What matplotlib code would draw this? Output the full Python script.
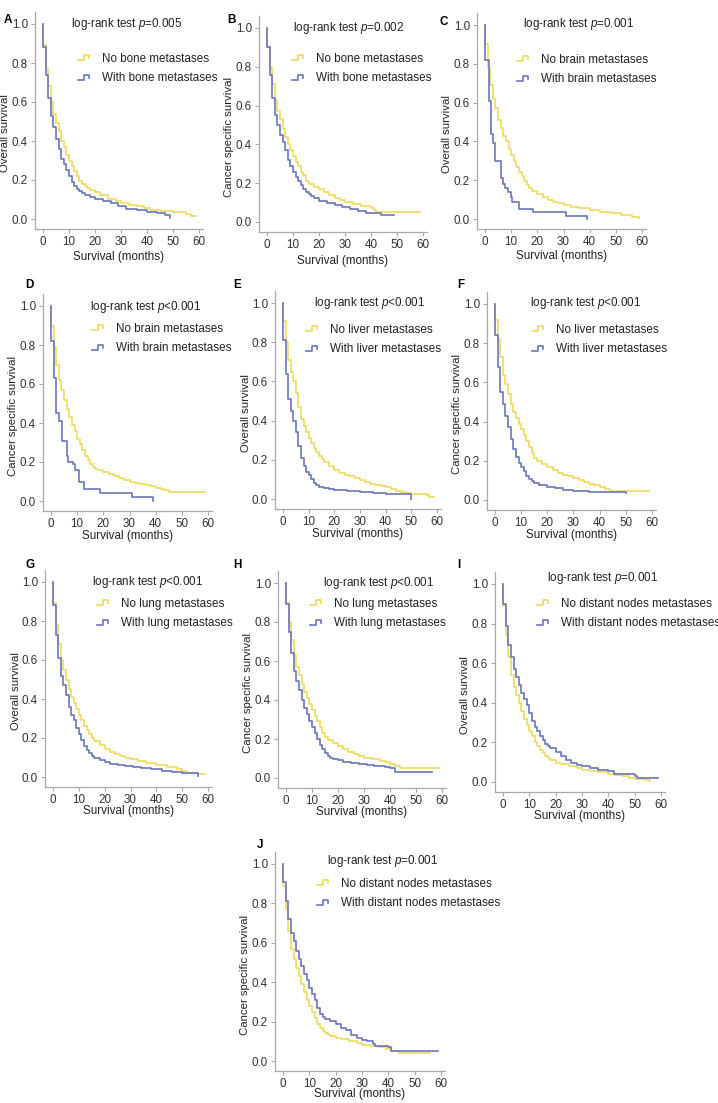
import numpy as np
import matplotlib
matplotlib.use("Agg")
import matplotlib.pyplot as plt
from matplotlib.lines import Line2D
from matplotlib.legend_handler import HandlerBase
from matplotlib.ticker import FormatStrFormatter

# ----------------------------
# DATA (Kaplan-Meier steps)
# ----------------------------
# A: bone metastases, overall survival
A_no_t = [0, 0, 1, 2, 3, 4, 5, 6, 7, 8, 9, 10, 11, 12, 13, 14, 15, 16, 17, 18, 20, 22, 25, 28, 30, 33, 36, 39, 41, 45, 50, 55, 57, 59]
A_no_s = [1.0, 0.89, 0.77, 0.68, 0.60, 0.54, 0.49, 0.45, 0.40, 0.37, 0.33, 0.30, 0.27, 0.245, 0.22, 0.195, 0.18, 0.17, 0.16, 0.15,
          0.14, 0.125, 0.105, 0.09, 0.08, 0.07, 0.065, 0.055, 0.045, 0.04, 0.035, 0.025, 0.015, 0.015]
A_with_t = [0, 0, 1, 2, 3, 4, 5, 6, 7, 8, 9, 10, 11, 12, 13, 14, 15, 16, 18, 20, 23, 26, 29, 32, 36, 40, 44, 47, 49]
A_with_s = [1.0, 0.88, 0.74, 0.62, 0.53, 0.47, 0.41, 0.36, 0.31, 0.28, 0.25, 0.22, 0.19, 0.17, 0.155, 0.145, 0.135, 0.125,
            0.115, 0.105, 0.09, 0.08, 0.065, 0.05, 0.045, 0.035, 0.03, 0.02, 0.005]

# B: bone metastases, cancer specific survival
B_no_t = [0, 0, 1, 2, 3, 4, 5, 6, 7, 8, 9, 10, 11, 12, 13, 14, 15, 16, 18, 20, 22, 24, 26, 28, 30, 33, 36, 38, 40, 41, 42, 59]
B_no_s = [1.0, 0.90, 0.80, 0.71, 0.63, 0.57, 0.53, 0.48, 0.44, 0.40, 0.37, 0.34, 0.31, 0.29, 0.26, 0.24, 0.21, 0.195,
          0.18, 0.17, 0.155, 0.14, 0.125, 0.115, 0.105, 0.095, 0.085, 0.08, 0.07, 0.06, 0.05, 0.05]
B_with_t = [0, 0, 1, 2, 3, 4, 5, 6, 7, 8, 9, 10, 11, 12, 13, 14, 15, 16, 17, 18, 20, 23, 26, 29, 32, 35, 38, 44, 49]
B_with_s = [1.0, 0.90, 0.76, 0.64, 0.55, 0.50, 0.45, 0.41, 0.37, 0.32, 0.29, 0.26, 0.23, 0.21, 0.19, 0.17, 0.155, 0.145, 0.135, 0.125,
            0.11, 0.10, 0.09, 0.075, 0.065, 0.055, 0.045, 0.038, 0.038]

# C: brain metastases, overall survival
C_no_t = [0, 0, 1, 2, 3, 4, 5, 6, 7, 8, 9, 10, 11, 12, 13, 14, 15, 16, 17, 18, 20, 22, 24, 26, 28, 30, 33, 36, 40, 44, 48, 52, 56, 59]
C_no_s = [1.0, 0.90, 0.78, 0.69, 0.62, 0.57, 0.51, 0.47, 0.43, 0.40, 0.36, 0.33, 0.30, 0.27, 0.24, 0.22, 0.195, 0.175, 0.16, 0.145,
          0.13, 0.115, 0.10, 0.09, 0.08, 0.07, 0.06, 0.055, 0.045, 0.035, 0.03, 0.02, 0.01, 0.005]
C_with_t = [0, 0, 1.6, 2.3, 2.9, 3.8, 6, 6.7, 7.6, 8.9, 9.8, 10.5, 13, 18.4, 30.9, 38.8]
C_with_s = [1.0, 0.82, 0.61, 0.44, 0.39, 0.30, 0.21, 0.18, 0.16, 0.14, 0.115, 0.09, 0.05, 0.034, 0.015, 0.0]

# D: brain metastases, cancer specific survival
D_no_t = [0, 0, 1, 2, 3, 4, 5, 6, 7, 8, 9, 10, 11, 12, 13, 14, 15, 16, 17, 18, 20, 22, 24, 26, 28, 30, 32, 34, 36, 38, 40, 42, 43, 45, 59]
D_no_s = [1.0, 0.90, 0.79, 0.70, 0.62, 0.57, 0.52, 0.47, 0.43, 0.39, 0.36, 0.32, 0.29, 0.26, 0.23, 0.21, 0.19, 0.175, 0.165, 0.16,
          0.15, 0.14, 0.13, 0.12, 0.11, 0.10, 0.09, 0.085, 0.08, 0.075, 0.065, 0.06, 0.055, 0.046, 0.046]
D_with_t = [0, 0, 1.1, 1.9, 3.2, 4.1, 6, 6.6, 8.3, 9.1, 10.7, 12.7, 18.7, 31.1, 39]
D_with_s = [1.0, 0.82, 0.63, 0.45, 0.41, 0.31, 0.23, 0.20, 0.19, 0.16, 0.10, 0.06, 0.04, 0.02, 0.0]

# E: liver metastases, overall survival
E_no_t = [0, 0, 1, 2, 3, 4, 5, 6, 7, 8, 9, 10, 11, 12, 13, 14, 15, 16, 18, 20, 22, 24, 26, 28, 30, 32, 34, 36, 38, 40, 42, 44, 46, 48, 50, 56, 57, 59]
E_no_s = [1.0, 0.91, 0.80, 0.71, 0.65, 0.60, 0.54, 0.47, 0.41, 0.37, 0.34, 0.31, 0.285, 0.26, 0.24, 0.22, 0.205, 0.19,
          0.17, 0.15, 0.135, 0.125, 0.115, 0.105, 0.095, 0.085, 0.075, 0.07, 0.065, 0.06, 0.05, 0.04, 0.035, 0.03, 0.025, 0.02, 0.012, 0.01]
E_with_t = [0, 0, 1, 2, 3, 4, 5, 6, 7, 8, 9, 10, 11, 12, 13, 14, 16, 18, 20, 25, 30, 35, 40, 50]
E_with_s = [1.0, 0.81, 0.64, 0.51, 0.45, 0.40, 0.34, 0.27, 0.21, 0.17, 0.14, 0.12, 0.10, 0.08, 0.07, 0.06,
            0.055, 0.05, 0.048, 0.04, 0.035, 0.03, 0.025, 0.0]

# F: liver metastases, cancer specific survival
F_no_t = [0, 0, 1, 2, 3, 4, 5, 6, 7, 8, 9, 10, 11, 12, 13, 14, 15, 16, 18, 20, 22, 24, 26, 28, 30, 32, 34, 36, 38, 40, 42, 44, 59]
F_no_s = [1.0, 0.92, 0.82, 0.73, 0.64, 0.59, 0.54, 0.49, 0.45, 0.42, 0.39, 0.36, 0.33, 0.30, 0.27, 0.24, 0.215, 0.20,
          0.185, 0.17, 0.155, 0.14, 0.13, 0.12, 0.11, 0.10, 0.09, 0.08, 0.075, 0.068, 0.055, 0.046, 0.046]
F_with_t = [0, 0, 1, 2, 3, 4, 5, 6, 7, 8, 9, 10, 11, 12, 13, 14, 15, 17, 20, 23, 26, 30, 36, 50]
F_with_s = [1.0, 0.84, 0.68, 0.55, 0.49, 0.43, 0.37, 0.31, 0.26, 0.22, 0.19, 0.17, 0.15, 0.12, 0.105, 0.095, 0.085,
            0.075, 0.065, 0.06, 0.05, 0.048, 0.04, 0.035]

# G: lung metastases, overall survival
G_no_t = [0, 0, 1, 2, 3, 4, 5, 6, 7, 8, 9, 10, 11, 12, 13, 14, 15, 16, 18, 20, 22, 24, 26, 28, 30, 33, 36, 40, 44, 48, 50, 52, 56, 59]
G_no_s = [1.0, 0.89, 0.78, 0.68, 0.60, 0.55, 0.50, 0.45, 0.41, 0.38, 0.35, 0.32, 0.29, 0.26, 0.24, 0.22, 0.20, 0.185,
          0.165, 0.145, 0.13, 0.12, 0.11, 0.10, 0.09, 0.08, 0.07, 0.06, 0.05, 0.04, 0.032, 0.02, 0.015, 0.015]
G_with_t = [0, 0, 1, 2, 3, 4, 5, 6, 7, 8, 9, 10, 11, 12, 13, 14, 15, 16, 18, 20, 22, 25, 28, 31, 34, 38, 42, 46, 50, 56]
G_with_s = [1.0, 0.88, 0.73, 0.61, 0.52, 0.47, 0.42, 0.36, 0.32, 0.29, 0.25, 0.22, 0.19, 0.16, 0.14, 0.125, 0.11, 0.095,
            0.085, 0.075, 0.065, 0.06, 0.055, 0.05, 0.045, 0.04, 0.03, 0.025, 0.02, 0.005]

# H: lung metastases, cancer specific survival
H_no_t = [0, 0, 1, 2, 3, 4, 5, 6, 7, 8, 9, 10, 11, 12, 13, 14, 15, 16, 18, 20, 22, 24, 26, 28, 30, 33, 36, 38, 40, 42, 44, 59]
H_no_s = [1.0, 0.90, 0.80, 0.71, 0.63, 0.57, 0.53, 0.48, 0.44, 0.41, 0.38, 0.35, 0.32, 0.29, 0.26, 0.23, 0.21, 0.195,
          0.18, 0.165, 0.15, 0.135, 0.125, 0.115, 0.105, 0.095, 0.085, 0.08, 0.07, 0.06, 0.05, 0.05]
H_with_t = [0, 0, 1, 2, 3, 4, 5, 6, 7, 8, 9, 10, 11, 12, 13, 14, 15, 16, 17, 18, 20, 22, 25, 28, 31, 34, 38, 40, 42, 56]
H_with_s = [1.0, 0.89, 0.75, 0.64, 0.55, 0.50, 0.45, 0.40, 0.36, 0.33, 0.29, 0.26, 0.23, 0.20, 0.17, 0.15, 0.13, 0.115, 0.105, 0.10,
            0.09, 0.08, 0.075, 0.07, 0.065, 0.06, 0.055, 0.05, 0.032, 0.032]

# I: distant nodes metastases, overall survival
I_no_t = [0, 0, 1, 2, 3, 4, 5, 6, 7, 8, 9, 10, 11, 12, 13, 14, 15, 16, 17, 18, 20, 22, 25, 28, 30, 33, 36, 40, 42, 45, 48, 50, 54, 56]
I_no_s = [1.0, 0.89, 0.74, 0.63, 0.54, 0.48, 0.44, 0.40, 0.36, 0.32, 0.29, 0.26, 0.23, 0.20, 0.18, 0.16, 0.145, 0.13, 0.12, 0.11,
          0.097, 0.09, 0.08, 0.07, 0.062, 0.055, 0.05, 0.042, 0.035, 0.03, 0.022, 0.015, 0.01, 0.005]
I_with_t = [0, 0, 1, 2, 3, 4, 5, 6, 7, 8, 9, 10, 11, 12, 13, 14, 15, 16, 17, 18, 20, 22, 24, 26, 28, 30, 33, 36, 40, 42, 50, 51, 59]
I_with_s = [1.0, 0.90, 0.79, 0.69, 0.63, 0.57, 0.53, 0.49, 0.45, 0.42, 0.39, 0.35, 0.31, 0.28, 0.26, 0.23, 0.21, 0.19, 0.18, 0.17,
            0.15, 0.13, 0.11, 0.095, 0.088, 0.08, 0.07, 0.06, 0.055, 0.04, 0.03, 0.022, 0.022]

# J: distant nodes metastases, cancer specific survival
J_no_t = [0, 0, 1, 2, 3, 4, 5, 6, 7, 8, 9, 10, 11, 12, 13, 14, 15, 16, 17, 18, 20, 22, 25, 28, 30, 33, 36, 39, 41, 44, 56]
J_no_s = [1.0, 0.89, 0.77, 0.66, 0.57, 0.52, 0.47, 0.43, 0.39, 0.35, 0.31, 0.28, 0.25, 0.22, 0.19, 0.17, 0.15, 0.14, 0.13, 0.125,
          0.115, 0.11, 0.10, 0.09, 0.08, 0.075, 0.07, 0.06, 0.05, 0.041, 0.041]
J_with_t = [0, 0, 1, 2, 3, 4, 5, 6, 7, 8, 9, 10, 11, 12, 13, 14, 15, 16, 18, 20, 22, 24, 26, 28, 30, 32, 34, 35, 40, 41, 59]
J_with_s = [1.0, 0.91, 0.81, 0.72, 0.65, 0.61, 0.56, 0.52, 0.48, 0.44, 0.41, 0.37, 0.34, 0.31, 0.27, 0.24, 0.225, 0.215,
            0.205, 0.19, 0.17, 0.155, 0.13, 0.115, 0.105, 0.10, 0.085, 0.075, 0.07, 0.05, 0.05]

site_names = ["bone", "bone", "brain", "brain", "liver", "liver", "lung", "lung", "distant nodes", "distant nodes"]
y_titles = ["Overall survival", "Cancer specific survival"] * 5
p_texts = ["=0.005", "=0.002", "=0.001", "<0.001", "<0.001", "<0.001", "<0.001", "<0.001", "=0.001", "=0.001"]
letters = ["A", "B", "C", "D", "E", "F", "G", "H", "I", "J"]
curves = [(A_no_t, A_no_s, A_with_t, A_with_s), (B_no_t, B_no_s, B_with_t, B_with_s),
          (C_no_t, C_no_s, C_with_t, C_with_s), (D_no_t, D_no_s, D_with_t, D_with_s),
          (E_no_t, E_no_s, E_with_t, E_with_s), (F_no_t, F_no_s, F_with_t, F_with_s),
          (G_no_t, G_no_s, G_with_t, G_with_s), (H_no_t, H_no_s, H_with_t, H_with_s),
          (I_no_t, I_no_s, I_with_t, I_with_s), (J_no_t, J_no_s, J_with_t, J_with_s)]

# ----------------------------
# LAYOUT (pixel anchors: x of 0 / 60 months, y of 1.0 / 0.0)
# ----------------------------
W, H = 718, 1103
anchors = [(43, 199, 24, 219), (267, 423, 28, 222), (485, 642, 25, 219),
           (51, 208, 306, 501), (283, 437, 303, 499), (495, 652, 304, 500),
           (53, 208, 582, 777), (286, 442, 583, 778), (503, 661, 584, 782),
           (283, 441, 864, 1061)]
title_px = [(127, 24), (349, 28), (578, 24), (145, 307), (369, 303), (585, 303),
            (147, 582), (378, 583), (602, 578), (382, 861)]
legend_px = [(78, 57), (292, 57), (517, 58), (92, 327), (306, 328), (532, 328),
             (97, 602), (310, 602), (537, 602), (317, 882)]
letter_px = [(4, 20), (227, 20), (440, 22), (25, 285), (233, 285), (457, 285),
             (25, 565), (233, 565), (457, 565), (257, 845)]
xlab_off = [28, 29, 27, 25, 25, 25, 24, 24, 24, 23]

YELLOW = "#EFDA5E"
BLUE = "#6A76BE"
GREY = "#A9A9A9"
XMIN, XMAX = -3.1, 61.5
YMIN, YMAX = -0.05, 1.06
FS = 8.4

plt.rcParams["font.family"] = ["Liberation Sans", "DejaVu Sans"]
plt.rcParams["mathtext.fontset"] = "custom"
plt.rcParams["mathtext.rm"] = "Liberation Sans"
plt.rcParams["mathtext.it"] = "Liberation Sans:italic"


class StepHandler(HandlerBase):
    # small KM-like step as legend key
    def create_artists(self, legend, orig_handle, xdescent, ydescent, width, height, fontsize, trans):
        xs = np.array([0, 0.5, 0.5, 1.0, 1.0]) * width - xdescent
        ys = np.array([0.2, 0.2, 0.8, 0.8, 0.45]) * height - ydescent
        ln = Line2D(xs, ys, color=orig_handle.get_color(), lw=orig_handle.get_linewidth())
        ln.set_transform(trans)
        return [ln]


fig = plt.figure(figsize=(W / 100, H / 100), dpi=100)

for i in range(10):
    x0, x60, y1, y0 = anchors[i]
    pxm = (x60 - x0) / 60.0
    pyu = float(y0 - y1)
    left = x0 + XMIN * pxm
    right = x0 + XMAX * pxm
    top = y1 - (YMAX - 1.0) * pyu
    bottom = y0 - YMIN * pyu
    ax = fig.add_axes([left / W, 1 - bottom / H, (right - left) / W, (bottom - top) / H])

    no_t, no_s, with_t, with_s = curves[i]
    site = site_names[i]
    l1, = ax.step(no_t, no_s, where="post", color=YELLOW, lw=1.2)
    l2, = ax.step(with_t, with_s, where="post", color=BLUE, lw=1.2)

    ax.set_xlim(XMIN, XMAX)
    ax.set_ylim(YMIN, YMAX)
    ax.set_xticks([0, 10, 20, 30, 40, 50, 60])
    ax.set_yticks([0, 0.2, 0.4, 0.6, 0.8, 1.0])
    ax.yaxis.set_major_formatter(FormatStrFormatter("%.1f"))
    for s in ["top", "right"]:
        ax.spines[s].set_visible(False)
    for s in ["left", "bottom"]:
        ax.spines[s].set_color(GREY)
        ax.spines[s].set_linewidth(0.9)
    ax.tick_params(direction="out", length=3, width=0.8, color=GREY,
                   labelsize=8.4, labelcolor="#333333", pad=2)

    ax.set_ylabel(y_titles[i], fontsize=8.2, color="#222222", labelpad=1)
    ax.yaxis.label.set_y(0.44)
    ax.set_xlabel("Survival (months)", fontsize=FS, color="#222222")
    ax.xaxis.label.set_va("center")
    ax.xaxis.set_label_coords(0.5, -xlab_off[i] / (bottom - top))

    tx, ty = title_px[i]
    fig.text(tx / W, 1 - ty / H, "log-rank test $p$" + p_texts[i], fontsize=FS,
             color="#222222", ha="center", va="center")

    lx, ly = legend_px[i]
    ax.legend([l1, l2], ["No %s metastases" % site, "With %s metastases" % site],
              handler_map={Line2D: StepHandler()},
              loc="upper left", bbox_to_anchor=(lx / W, 1 - (ly - 4) / H),
              bbox_transform=fig.transFigure, frameon=False, fontsize=FS,
              borderpad=0, borderaxespad=0, handlelength=0.95, handletextpad=1.1,
              labelspacing=0.62, labelcolor="#222222")

    px, py = letter_px[i]
    fig.text(px / W, 1 - py / H, letters[i], fontsize=8.4, fontweight="bold",
             ha="left", va="center")

plt.savefig("out.png", dpi=100)
